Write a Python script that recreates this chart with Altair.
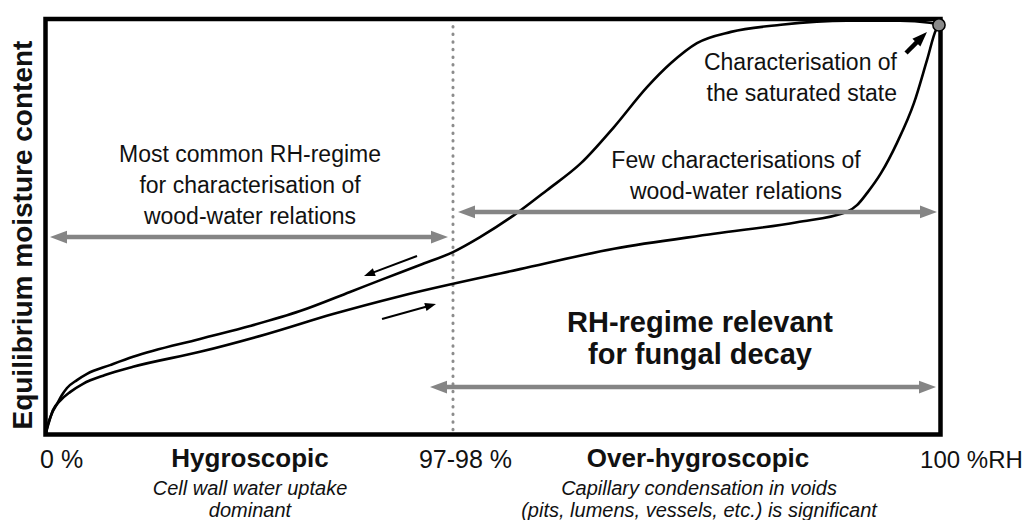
import math
import altair as alt
import pandas as pd

# ---------------- data (conceptual units) ----------------
# RH position: 0 = 0 %RH, ~45.5 = 97-98 %RH, 100 = 100 %RH ; moisture content: 0..100 (relative)
desorption_rh = [0, 0.28, 0.73, 1.28, 1.84, 2.40, 3.52, 4.64, 7.21, 9.78, 17.26, 22.85, 28.44,
                 34.02, 37.71, 41.84, 45.53, 48.55, 52.35, 56.03, 59.83, 63.52, 67.21, 69.89,
                 72.79, 76.59, 82.18, 89.55, 95.47, 98.8, 99.83]
desorption_mc = [0, 2.5, 5.2, 7.3, 9.5, 11.2, 13.1, 14.6, 16.7, 18.7, 23.0, 26.1, 29.7,
                 34.3, 37.4, 40.8, 43.9, 47.5, 52.8, 58.8, 65.3, 74.0, 83.6, 89.4,
                 94.2, 96.9, 98.6, 99.6, 99.6, 99.1, 98.56]

absorption_rh = [0, 0.39, 0.84, 1.62, 2.74, 4.19, 6.65, 9.78, 17.26, 24.75, 32.12, 39.61,
                 53.02, 63.52, 74.69, 83.97, 89.55, 90.67, 91.79, 93.35, 95.14, 97.04, 98.49,
                 99.50, 99.83]
absorption_mc = [0, 3.0, 5.9, 8.1, 10.2, 12.2, 14.3, 16.3, 19.9, 24.2, 29.0, 33.3,
                 39.8, 44.7, 48.3, 51.1, 53.6, 55.2, 58.1, 62.9, 70.2, 79.8, 90.1,
                 97.4, 98.56]

threshold_rh = 45.53          # 97-98 % RH
saturated_rh = 99.83
saturated_mc = 98.56

# double-headed range arrows (grey)
range_names = ["common", "few", "fungal"]
range_from = [0.50, 46.09, 42.96]
range_to = [44.97, 99.61, 99.50]
range_level = [47.53, 53.55, 11.43]

# single black arrows (tail -> tip)
pointer_names = ["desorption", "absorption", "saturated"]
pointer_tail_rh = [41.51, 37.60, 96.15]
pointer_tail_mc = [42.96, 27.80, 91.82]
pointer_tip_rh = [35.59, 43.63, 98.49]
pointer_tip_mc = [38.15, 31.41, 96.87]

# ---------------- layout constants ----------------
X_RANGE = [37.5, 932.5]
Y_RANGE = [426.5, 11.0]
PX_X = (X_RANGE[1] - X_RANGE[0]) / 100.0
PX_Y = (Y_RANGE[0] - Y_RANGE[1]) / 100.0

FONT = "Liberation Sans"
INK = "#111111"
GREY = "#858585"
HEAD = "M0,0L-2,-0.75L-2,0.75Z"

xs = alt.Scale(domain=[0, 100], range=X_RANGE, nice=False, zero=False)
ys = alt.Scale(domain=[0, 100], range=Y_RANGE, nice=False, zero=False)


def X(f="x"):
    return alt.X(f"{f}:Q", scale=xs, axis=None)


def Y(f="y"):
    return alt.Y(f"{f}:Q", scale=ys, axis=None)


# ---------------- curves ----------------
curve_rows = []
for i, (a, b) in enumerate(zip(desorption_rh, desorption_mc)):
    curve_rows.append({"x": a, "y": b, "curve": "desorption", "o": i})
for i, (a, b) in enumerate(zip(absorption_rh, absorption_mc)):
    curve_rows.append({"x": a, "y": b, "curve": "absorption", "o": i})
curves = alt.Chart(pd.DataFrame(curve_rows)).mark_line(
    color="black", strokeWidth=2.6, interpolate="monotone"
).encode(x=X(), y=Y(), detail="curve:N", order="o:Q")

# ---------------- frame ----------------
frame = alt.Chart(pd.DataFrame([{"x": 0, "x2": 100, "y": 0, "y2": 100}])).mark_rect(
    fillOpacity=0, stroke="black", strokeWidth=4.5
).encode(x=X(), x2="x2:Q", y=Y(), y2="y2:Q")

# ---------------- dotted threshold ----------------
dotted = alt.Chart(pd.DataFrame([{"x": threshold_rh, "y": 98.2, "y2": 0.6}])).mark_rule(
    color="#8c8c8c", strokeWidth=3, strokeDash=[0.5, 7.1], strokeCap="round"
).encode(x=X(), y=Y(), y2="y2:Q")

# ---------------- grey range arrows ----------------
g_len = 17.0
shaft_rows, head_rows = [], []
for n, a, b, lv in zip(range_names, range_from, range_to, range_level):
    shaft_rows.append({"x": a + 0.6 * g_len / PX_X, "x2": b - 0.6 * g_len / PX_X, "y": lv})
    head_rows.append({"x": a, "y": lv, "angle": 180, "size": g_len ** 2})
    head_rows.append({"x": b, "y": lv, "angle": 0, "size": g_len ** 2})
grey_shafts = alt.Chart(pd.DataFrame(shaft_rows)).mark_rule(
    color=GREY, strokeWidth=4.5
).encode(x=X(), x2="x2:Q", y=Y())
grey_heads = alt.Chart(pd.DataFrame(head_rows)).mark_point(
    shape=HEAD, filled=True, color=GREY, opacity=1
).encode(x=X(), y=Y(), angle=alt.Angle("angle:Q", scale=None), size=alt.Size("size:Q", scale=None))

# ---------------- black pointer arrows ----------------
p_rows, ph_rows = [], []
for n, tx, ty, hx, hy in zip(pointer_names, pointer_tail_rh, pointer_tail_mc, pointer_tip_rh, pointer_tip_mc):
    dxp = (hx - tx) * PX_X
    dyp = -(hy - ty) * PX_Y
    L = math.hypot(dxp, dyp)
    ang = math.degrees(math.atan2(dyp, dxp)) % 360
    hl = 15.0 if n == "saturated" else 11.0
    sw = 4.5 if n == "saturated" else 2.0
    ex = hx - (dxp / L) * 0.6 * hl / PX_X
    ey = hy + (dyp / L) * 0.6 * hl / PX_Y
    p_rows.append({"x": tx, "y": ty, "x2": ex, "y2": ey, "sw": sw})
    ph_rows.append({"x": hx, "y": hy, "angle": ang, "size": hl ** 2})
black_shafts = alt.Chart(pd.DataFrame(p_rows)).mark_rule(color="black").encode(
    x=X(), y=Y(), x2="x2:Q", y2="y2:Q", strokeWidth=alt.StrokeWidth("sw:Q", scale=None)
)
black_heads = alt.Chart(pd.DataFrame(ph_rows)).mark_point(
    shape=HEAD, filled=True, color="black", opacity=1
).encode(x=X(), y=Y(), angle=alt.Angle("angle:Q", scale=None), size=alt.Size("size:Q", scale=None))

# ---------------- saturated state point ----------------
sat = alt.Chart(pd.DataFrame([{"x": saturated_rh, "y": saturated_mc}])).mark_point(
    shape="circle", filled=True, fill="#8a8a8a", stroke="black", strokeWidth=1.5, size=150, opacity=1
).encode(x=X(), y=Y())


# ---------------- texts ----------------
def text_layer(rows, **kw):
    return alt.Chart(pd.DataFrame(rows)).mark_text(
        font=FONT, color=INK, lineBreak="\n", **kw
    ).encode(x=X(), y=Y(), text="t:N")


inside_center = text_layer([
    {"t": "Most common RH-regime\nfor characterisation of\nwood-water relations", "x": 22.85, "y": 65.6},
    {"t": "Few characterisations of\nwood-water relations", "x": 77.15, "y": 64.1},
], fontSize=23, align="center", baseline="alphabetic", lineHeight=31)

inside_right = text_layer([
    {"t": "Characterisation of\nthe saturated state", "x": 95.14, "y": 87.7},
], fontSize=23, align="right", baseline="alphabetic", lineHeight=31)

fungal = text_layer([
    {"t": "RH-regime relevant\nfor fungal decay", "x": 73.13, "y": 24.67},
], fontSize=29, fontWeight="bold", align="center", baseline="alphabetic", lineHeight=32)

ticks_left = text_layer([
    {"t": "0 %", "x": -0.61, "y": -8.06},
], fontSize=25, align="left", baseline="alphabetic")

ticks_right = text_layer([
    {"t": "100 %RH", "x": 109.2, "y": -8.06},
], fontSize=24, align="right", baseline="alphabetic")

ticks_center = text_layer([
    {"t": "97-98 %", "x": 46.93, "y": -8.06},
], fontSize=25, align="center", baseline="alphabetic")

regimes = text_layer([
    {"t": "Hygroscopic", "x": 22.85, "y": -7.82},
    {"t": "Over-hygroscopic", "x": 72.91, "y": -7.82},
], fontSize=26, fontWeight="bold", align="center", baseline="alphabetic")

notes = text_layer([
    {"t": "Cell wall water uptake\ndominant", "x": 22.85, "y": -14.6},
    {"t": "Capillary condensation in voids\n(pits, lumens, vessels, etc.) is significant", "x": 73.02, "y": -14.6},
], fontSize=20, fontStyle="italic", align="center", baseline="alphabetic", lineHeight=22)

ytitle = text_layer([
    {"t": "Equilibrium moisture content", "x": -2.40, "y": 48.0},
], fontSize=28, fontWeight="bold", align="center", baseline="middle", angle=270)

chart = alt.layer(
    dotted, curves, frame, grey_shafts, grey_heads, black_shafts, black_heads, sat,
    inside_center, inside_right, fungal, ticks_left, ticks_right, ticks_center, regimes, notes, ytitle
).properties(
    width=1018, height=512, padding=0,
    autosize=alt.AutoSizeParams(type="none"),
    background="white",
).configure_view(stroke=None)

chart.save("out.html", embed_options={"renderer": "svg", "actions": False})
